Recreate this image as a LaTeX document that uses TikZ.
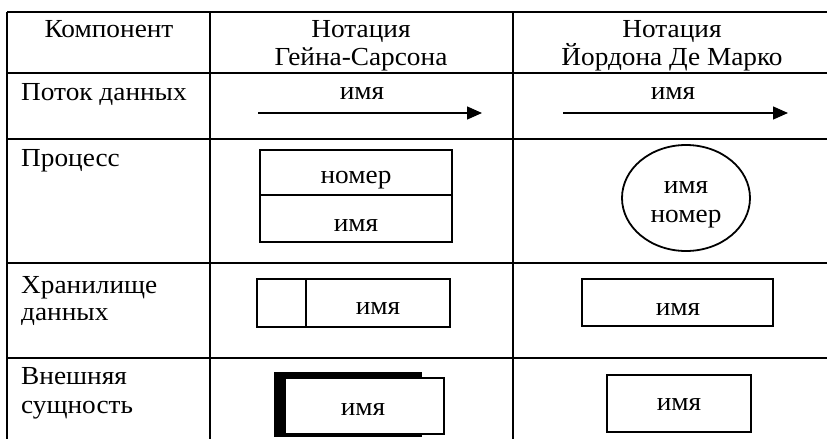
\documentclass[tikz,border=0pt]{standalone}
\usepackage{fontspec}
\setmainfont[FakeStretch=1.05]{Liberation Serif}
\usetikzlibrary{arrows.meta}
\begin{document}
\begin{tikzpicture}[x=1pt,y=-1pt,
  txt/.style={inner sep=0pt,anchor=base,font=\fontsize{26}{30}\selectfont},
  lbl/.style={txt,anchor=base west},
  grid/.style={line width=2.6pt},
  shp/.style={line width=1.8pt},
  flow/.style={line width=1.4pt,-{Triangle[length=15pt,width=13pt]}}]
\useasboundingbox (0,0) rectangle (827,439);
% table grid
\draw[grid] (7,12) -- (827,12);
\draw[grid] (7,73) -- (827,73);
\draw[grid] (7,139) -- (827,139);
\draw[grid] (7,263) -- (827,263);
\draw[grid] (7,358) -- (827,358);
\draw[grid] (7,12) -- (7,439);
\draw[grid] (210,12) -- (210,439);
\draw[grid] (513,12) -- (513,439);
% header
\node[txt] (h1) at (109,37) {Компонент};
\node[txt] (h2a) at (361,37) {Нотация};
\node[txt] (h2b) at (361,65) {Гейна-Сарсона};
\node[txt] (h3a) at (672,37) {Нотация};
\node[txt] (h3b) at (672,65) {Йордона Де Марко};
% row labels
\node[lbl] (r1) at (21,100) {Поток данных};
\node[lbl] (r2) at (21,166) {Процесс};
\node[lbl] (r3a) at (21,293) {Хранилище};
\node[lbl] (r3b) at (21,320) {данных};
\node[lbl] (r4a) at (21,384) {Внешняя};
\node[lbl] (r4b) at (21,413) {сущность};
% data flow
\coordinate (f1s) at (258,113);
\coordinate (f1e) at (482,113);
\draw[flow] (f1s) -- (f1e);
\node[txt] (f1n) at (362,99) {имя};
\coordinate (f2s) at (563,113);
\coordinate (f2e) at (788,113);
\draw[flow] (f2s) -- (f2e);
\node[txt] (f2n) at (673,99) {имя};
% process GS
\draw[shp] (260,150) rectangle (452,242);
\draw[shp] (260,195) -- (452,195);
\node[txt] (p1a) at (356,183) {номер};
\node[txt] (p1b) at (356,231) {имя};
% process Yourdon
\draw[shp] (686,198) ellipse [x radius=64, y radius=53];
\node[txt] (p2a) at (686,193) {имя};
\node[txt] (p2b) at (686,222) {номер};
% data store GS
\draw[shp] (257,279) rectangle (450,327);
\draw[shp] (306,279) -- (306,327);
\node[txt] (s1) at (378,314) {имя};
% data store Yourdon
\draw[shp] (582,279) rectangle (773,326);
\node[txt] (s2) at (678,315) {имя};
% external GS
\fill (274,372) rectangle (422,437);
\draw[shp,fill=white] (285,378) rectangle (444,434);
\node[txt] (e1) at (363,415) {имя};
% external Yourdon
\draw[shp] (607,375) rectangle (751,432);
\node[txt] (e2) at (679,410) {имя};
\end{tikzpicture}
\end{document}
